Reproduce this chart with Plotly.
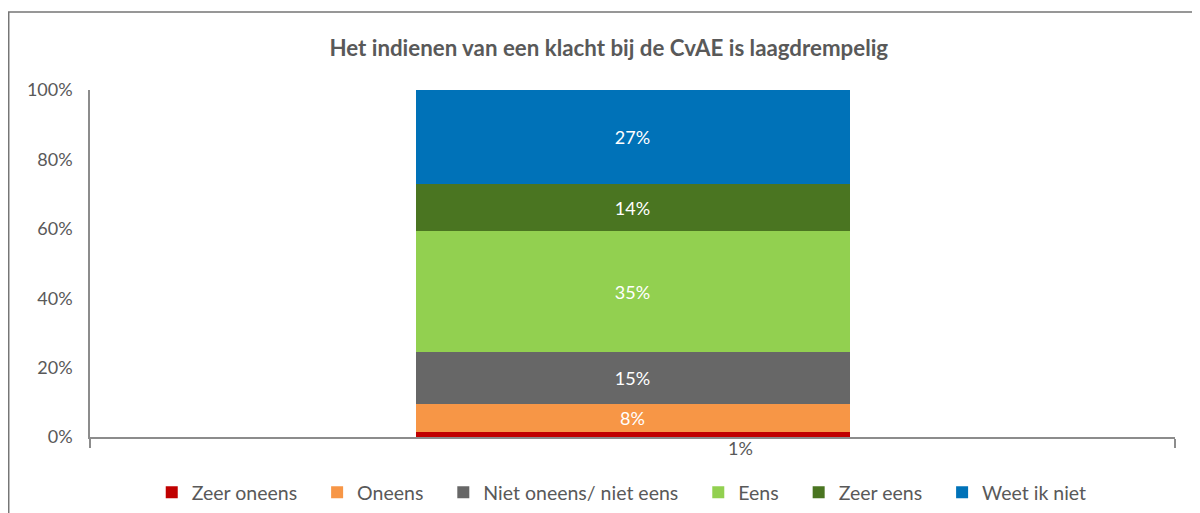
import plotly.graph_objects as go

category = ["Het indienen van een klacht bij de CvAE is laagdrempelig"]
series_names = ["Zeer oneens", "Oneens", "Niet oneens/ niet eens", "Eens", "Zeer eens", "Weet ik niet"]
series_values = [0.014, 0.080, 0.150, 0.349, 0.136, 0.271]
series_colors = ["#C00000", "#F79646", "#676767", "#92D050", "#4A7521", "#0072B8"]
y_ticks = [0, 0.2, 0.4, 0.6, 0.8, 1.0]

FONT = "Lato"
GREY = "#595959"
PAD = "\u00a0" * 3  # spacing between legend entries

fig = go.Figure()
for i, (name, val, col) in enumerate(zip(series_names, series_values, series_colors)):
    inside = i != 0
    fig.add_trace(go.Bar(
        x=category, y=[val], name=name + PAD,
        marker=dict(color=col, line=dict(width=0)),
        texttemplate="%{y:.0%}" if inside else "",
        textposition="inside" if inside else "none",
        insidetextanchor="middle",
        textangle=0,
        constraintext="none",
        textfont=dict(family=FONT, size=18, color="white"),
        hovertemplate=name + ": %{y:.0%}<extra></extra>",
    ))

# label of the smallest segment placed below the axis
fig.add_annotation(
    x=category[0], y=0, xref="x", yref="y",
    text=f"{series_values[0]:.0%}", showarrow=False,
    xshift=108, yshift=-11, yanchor="middle",
    font=dict(family=FONT, size=18, color=GREY),
)

# chart border
fig.add_shape(type="rect", xref="paper", yref="paper",
              x0=-0.0749, x1=1.2, y0=-0.6, y1=1.225,
              line=dict(color="#767676", width=1.5), layer="below")

fig.update_layout(
    barmode="stack",
    bargap=0.6,
    width=1192, height=505,
    margin=dict(l=82, r=25, t=82, b=76, autoexpand=False),
    paper_bgcolor="white", plot_bgcolor="white",
    font=dict(family=FONT, size=18, color=GREY),
    title=dict(text="<b>Het indienen van een klacht bij de CvAE is laagdrempelig</b>",
               x=0.504, xanchor="center", y=0.921, yanchor="middle",
               font=dict(family=FONT, size=22.3, color=GREY)),
    showlegend=True,
    legend=dict(orientation="h", x=0.497, xanchor="center", y=-0.16, yanchor="middle",
                font=dict(family=FONT, size=19.5, color=GREY), traceorder="normal",
                itemwidth=30),
    xaxis=dict(showticklabels=False, showline=True, linecolor="#8C8C8C", linewidth=1.5,
               ticks="outside", tickson="boundaries", ticklen=9, tickcolor="#8C8C8C",
               tickwidth=1.5, showgrid=False, zeroline=False, automargin=False),
    yaxis=dict(range=[0, 1], tickvals=y_ticks, tickformat=".0%", showline=True,
               linecolor="#8C8C8C", linewidth=1.5, ticks="", showgrid=False,
               zeroline=False, ticklabelstandoff=12, automargin=False,
               tickfont=dict(family=FONT, size=18, color=GREY)),
)

fig.write_html("out.html")
